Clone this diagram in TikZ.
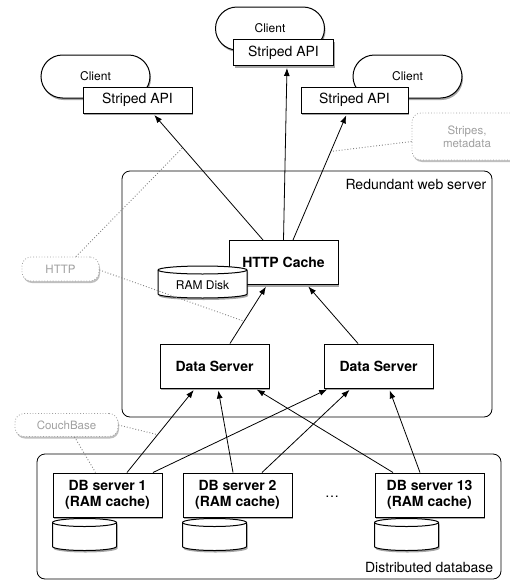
\documentclass[tikz,border=0pt]{standalone}
\usepackage{fontspec}
\setmainfont{TeX Gyre Heros}
\usepackage{tikz}
\usetikzlibrary{arrows.meta, positioning, shapes.misc, shadows, calc}
\newcommand{\FsBig}{\fontsize{14}{15.5}\selectfont}
\newcommand{\FsMid}{\fontsize{12}{13}\selectfont}
\newcommand{\FsNote}{\fontsize{11.5}{13}\selectfont}
\definecolor{notegray}{HTML}{A0A0A0}
\tikzset{
    boxshadow/.style={drop shadow={shadow xshift=1pt, shadow yshift=-2pt, fill=black, opacity=0.35}},
    client/.style={rounded rectangle, draw, line width=1pt, fill=white, boxshadow,
      minimum width=109pt, minimum height=43pt, inner sep=0pt, font=\FsMid},
    api/.style={rectangle, draw, line width=1pt, fill=white, boxshadow,
      minimum height=26pt, inner sep=0pt, font=\FsBig},
    server/.style={rectangle, draw, line width=1pt, fill=white, boxshadow,
      minimum width=109pt, minimum height=44pt, inner sep=0pt, font=\FsBig\bfseries, align=center},
    group/.style={rectangle, draw, rounded corners=8pt, line width=0.8pt, inner sep=0pt},
    note/.style={rectangle, rounded corners=9pt, draw=notegray, dotted, line width=0.8pt, fill=white,
      drop shadow={shadow xshift=1pt, shadow yshift=-2pt, fill=gray, opacity=0.5},
      text=notegray, inner sep=0pt, font=\FsNote, align=center},
    noteline/.style={draw=gray, dotted, line width=0.9pt},
    flow/.style={-{Latex[length=8pt, width=6pt]}, line width=0.8pt, shorten >=2pt},
    % cylinder hanging from its top left corner: {width}{height}
    pics/disk/.style n args={2}{code={
      \path[draw, line width=1pt, fill=white, boxshadow]
        (0pt,-4pt) -- (0pt,{-#2+4pt})
        arc[start angle=180, end angle=360, x radius={#1/2}, y radius=4pt]
        -- (#1,-4pt)
        arc[start angle=0, end angle=180, x radius={#1/2}, y radius=4pt] -- cycle;
      \draw[line width=1pt] (0pt,-4pt)
        arc[start angle=180, end angle=360, x radius={#1/2}, y radius=4pt];
    }},
}

\begin{document}
\begin{tikzpicture}[x=1pt, y=-1pt]
    \useasboundingbox (0,0) rectangle (509,581);

    % groups
    \node[group, minimum width=370pt, minimum height=246pt] (web) at (307,294) {};
    \node[anchor=north east, inner sep=0pt, font=\FsBig] (webLbl) at ([shift={(-6pt,-8pt)}]web.north east) {Redundant web server};
    \node[group, minimum width=464pt, minimum height=125pt] (dbase) at (269,516.5) {};
    \node[anchor=south east, inner sep=0pt, font=\FsBig] (dbaseLbl) at ([shift={(-8pt,6pt)}]dbase.south east) {Distributed database};

    % clients
    \node[client] (clientT) at (270,28.5) {Client};
    \node[api, minimum width=100pt] (apiT) at (283.5,52.5) {Striped API};
    \node[client] (clientL) at (95.5,76.5) {Client};
    \node[api, minimum width=109pt] (apiL) at (137.5,100) {Striped API};
    \node[client] (clientR) at (407.5,76.5) {Client};
    \node[api, minimum width=107pt] (apiR) at (354.5,100) {Striped API};

    % web server
    \node[server] (cache) at (283.5,262.5) {HTTP Cache};
    \pic at (158,266) {disk={89pt}{32pt}};
    \node[font=\FsMid] (ramdisk) at (202.5,285) {RAM Disk};
    \node[server] (dsL) at (214.5,366) {Data Server};
    \node[server, right=54pt of dsL] (dsR) {Data Server};

    % database
    \node[server] (db1) at (107.5,495) {DB server 1\\(RAM cache)};
    \node[server, right=20pt of db1] (db2) {DB server 2\\(RAM cache)};
    \node[server] (db13) at (429.5,495) {DB server 13\\(RAM cache)};
    \node[font=\FsBig] (dots) at (332,497) {\dots};
    \pic at ([yshift=-1pt]db1.south west) {disk={64pt}{32pt}};
    \pic at ([yshift=-1pt]db2.south west) {disk={64pt}{32pt}};
    \pic at ([yshift=-1pt]db13.south west) {disk={64pt}{32pt}};

    % arrows
    \draw[flow] ([xshift=-20.5pt]cache.north) -- coordinate[pos=0.73] (httpA) ([xshift=15.5pt]apiL.south);
    \draw[flow] (cache.north) -- ([xshift=3.5pt]apiT.south);
    \draw[flow] ([xshift=9.5pt]cache.north) -- coordinate[pos=0.7] (stripeA) ([xshift=-7.5pt]apiR.south);
    \draw[flow] ([xshift=15.5pt]dsL.north) -- coordinate[pos=0.38] (httpB) ([xshift=-16.5pt]cache.south);
    \draw[flow] ([xshift=-20.5pt]dsR.north) -- ([xshift=23.5pt]cache.south);
    \draw[flow] ([xshift=19.5pt]db1.north) -- coordinate[pos=0.45] (couchA) ([xshift=-19.5pt]dsL.south);
    \draw[flow] ([xshift=45.5pt]db1.north) -- ([xshift=-49.5pt]dsR.south);
    \draw[flow] ([xshift=-4.5pt]db2.north) -- ([xshift=3.5pt]dsL.south);
    \draw[flow] ([xshift=24.5pt]db2.north) -- ([xshift=-27.5pt]dsR.south);
    \draw[flow] ([xshift=-36.5pt]db13.north) -- ([xshift=40.5pt]dsL.south);
    \draw[flow] ([xshift=-9.5pt]db13.north) -- ([xshift=10.5pt]dsR.south);

    % notes
    \node[note, minimum width=110pt, minimum height=47pt] (stripesNote) at (467,136.5) {Stripes,\\metadata};
    \node[note, minimum width=77pt, minimum height=24pt] (httpNote) at (60.5,269) {HTTP};
    \node[note, minimum width=103pt, minimum height=23pt] (couchNote) at (66.5,425) {CouchBase};
    \draw[noteline] ([xshift=15.5pt]httpNote.north) -- (httpA);
    \draw[noteline] ([yshift=-1pt]httpNote.east) -- (httpB);
    \draw[noteline] ([yshift=-5pt]stripesNote.west) -- (stripeA);
    \draw[noteline] (couchNote.east) -- (couchA);
    \draw[noteline] ([xshift=8pt]couchNote.south) -- ([xshift=-12pt]db1.north);
\end{tikzpicture}
\end{document}
